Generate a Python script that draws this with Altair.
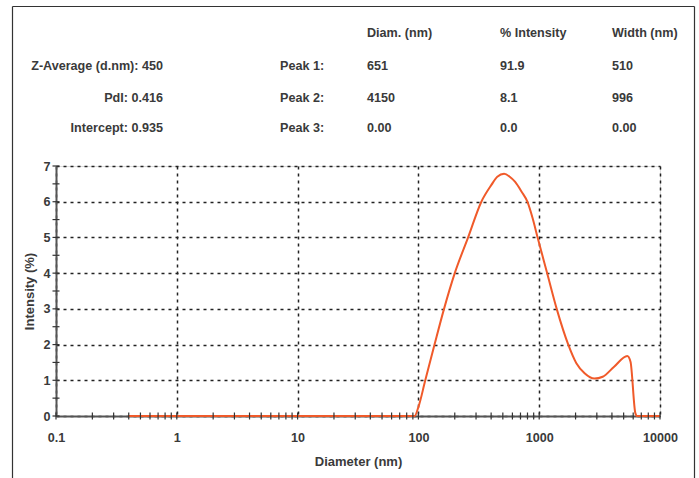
import altair as alt
import pandas as pd

# ---- data ----
diameter = [0.4, 1, 10, 93, 100, 114, 136, 163, 200, 258, 332, 402, 450, 512, 570, 630,
            715, 798, 880, 970, 1157, 1396, 1740, 2030, 2376, 2866, 3356, 4170,
            5360, 5700, 6250, 6460, 10000]
intensity = [0, 0, 0, 0, 0.25, 1.0, 2.0, 3.0, 4.0, 5.0, 6.0, 6.47, 6.7, 6.78, 6.7, 6.56,
             6.28, 6.0, 5.55, 5.0, 4.03, 3.0, 2.0, 1.48, 1.2, 1.05, 1.1, 1.38,
             1.68, 1.52, 0.08, 0, 0]

x_major = [0.1, 1, 10, 100, 1000, 10000]
x_minor = [m * d for d in [0.1, 1, 10, 100, 1000] for m in range(2, 10)]
y_major = [0, 1, 2, 3, 4, 5, 6, 7]
y_minor = [0.5, 1.5, 2.5, 3.5, 4.5, 5.5, 6.5]

summary_labels = ["Z-Average (d.nm): 450", "PdI: 0.416", "Intercept: 0.935"]
peak_names = ["Peak 1:", "Peak 2:", "Peak 3:"]
headers = ["Diam. (nm)", "% Intensity", "Width (nm)"]
peak_diam = ["651", "4150", "0.00"]
peak_int = ["91.9", "8.1", "0.0"]
peak_width = ["510", "996", "0.00"]

FONT = "Liberation Sans"
TXT = "#3a3a3a"
FS = 12.6
W, H = 604, 250

curve = pd.DataFrame({"d": diameter, "i": intensity})

xs = alt.Scale(type="log", domain=[0.1, 10000], nice=False)
ys = alt.Scale(domain=[0, 7], nice=False)

grid_kw = dict(grid=True, gridDash=[3, 4], gridColor="#222", gridWidth=1.5,
               domainColor="#555", domainWidth=2, ticks=False,
               labelFont=FONT, labelFontSize=FS, labelFontWeight="bold",
               labelColor=TXT, titleFont=FONT, titleFontSize=13,
               titleFontWeight="bold", titleColor=TXT)

x_axis = alt.Axis(values=x_major, labelExpr="format(datum.value, '~g')",
                  labelPadding=15, titlePadding=12, labelFlush=False,
                  labelOverlap=False, **grid_kw)
y_axis = alt.Axis(values=y_major, labelPadding=6, titlePadding=6,
                  labelOverlap=False, **grid_kw)

line = alt.Chart(curve).mark_line(color="#F05A2A", strokeWidth=2,
                                  interpolate="monotone").encode(
    x=alt.X("d:Q", scale=xs, title="Diameter (nm)", axis=x_axis),
    y=alt.Y("i:Q", scale=ys, title="Intensity (%)", axis=y_axis),
)

xt = alt.Chart(pd.DataFrame({"t": x_major + x_minor})).mark_rule(
    color="#333", strokeWidth=1.2).encode(
    x=alt.X("t:Q", scale=xs, title="Diameter (nm)", axis=x_axis),
    y=alt.value(H - 3.5), y2=alt.value(H + 3.5))
yt = alt.Chart(pd.DataFrame({"t": y_major + y_minor})).mark_rule(
    color="#333", strokeWidth=1.2).encode(
    y=alt.Y("t:Q", scale=ys, title="Intensity (%)", axis=y_axis),
    x=alt.value(-3.5), x2=alt.value(3.5))

one = alt.Data(values=[{}])


def txt(s, x, y, align="left"):
    return alt.Chart(one).mark_text(
        text=s, align=align, baseline="middle", font=FONT, fontSize=FS,
        fontWeight="bold", color=TXT).encode(x=alt.value(x), y=alt.value(y))


texts = []
row_y = [-100, -68, -38]
for k in range(3):
    texts.append(txt(summary_labels[k], 107, row_y[k], "right"))
    texts.append(txt(peak_names[k], 224, row_y[k]))
    texts.append(txt(peak_diam[k], 311, row_y[k]))
    texts.append(txt(peak_int[k], 444, row_y[k]))
    texts.append(txt(peak_width[k], 556, row_y[k]))
for h, xp in zip(headers, [311, 444, 556]):
    texts.append(txt(h, xp, -133))

bc = "#333"
border = [
    alt.Chart(one).mark_rule(color=bc, strokeWidth=1.2).encode(
        x=alt.value(-43.5), y=alt.value(-159.5), y2=alt.value(320)),
    alt.Chart(one).mark_rule(color=bc, strokeWidth=1.2).encode(
        x=alt.value(-43.5), x2=alt.value(638.5), y=alt.value(-159.5)),
    alt.Chart(one).mark_rule(color=bc, strokeWidth=1.2).encode(
        x=alt.value(638.5), y=alt.value(-159.5), y2=alt.value(320)),
]

chart = alt.layer(line, xt, yt, *texts, *border).properties(
    width=W, height=H, padding={"left": 56, "top": 166, "right": 39, "bottom": 62},
    autosize=alt.AutoSizeParams(type="none"),
).configure_view(strokeWidth=0).configure(background="white")

chart.save("out.html", embed_options={"renderer": "svg", "actions": False})
